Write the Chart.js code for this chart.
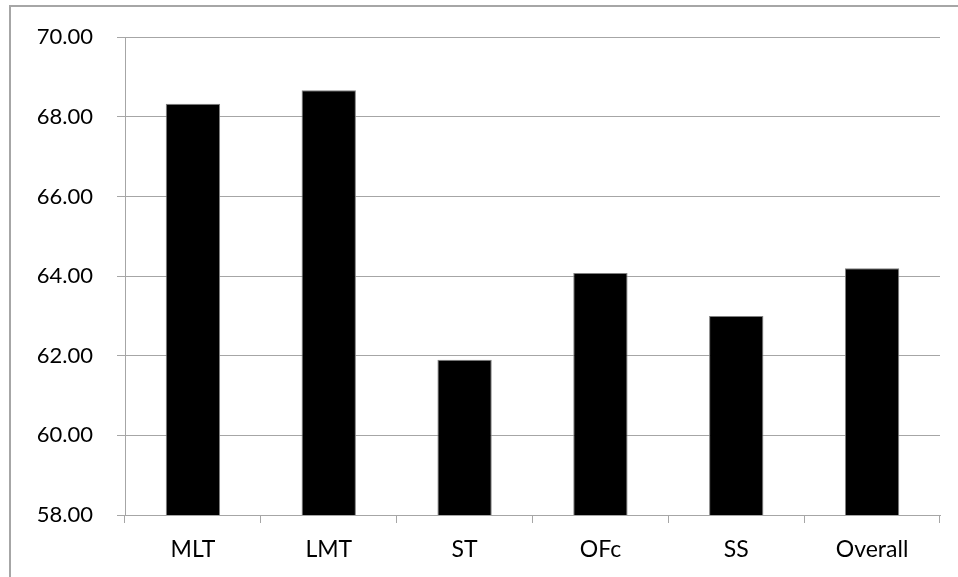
<!DOCTYPE html>
<html>
<head>
<meta charset="utf-8">
<script src="https://cdn.jsdelivr.net/npm/chart.js@4/dist/chart.umd.min.js"></script>
<style>
  html, body { margin: 0; padding: 0; background: #ffffff; }
  #wrap { width: 958px; height: 577px; position: relative; }
</style>
</head>
<body>
<div id="wrap"><canvas id="chart" width="958" height="577"></canvas></div>
<script>
// Category labels and the score for each group
const categories = ['MLT', 'LMT', 'ST', 'OFc', 'SS', 'Overall'];
const scores = [68.33, 68.67, 61.90, 64.08, 63.00, 64.20];

// Value axis range
const yMin = 58;
const yMax = 70;
const yStep = 2;

const lineGray = '#a6a6a6';

// Light frame drawn around the chart
const framePlugin = {
  id: 'frame',
  beforeDraw(chart) {
    const ctx = chart.ctx;
    ctx.save();
    ctx.fillStyle = '#ffffff';
    ctx.fillRect(0, 0, chart.width, chart.height);
    ctx.strokeStyle = '#a6a6a6';
    ctx.lineWidth = 2;
    ctx.strokeRect(10, 6, chart.width + 20, chart.height + 20);
    ctx.restore();
  }
};

new Chart(document.getElementById('chart'), {
  type: 'bar',
  data: {
    labels: categories,
    datasets: [{
      data: scores,
      backgroundColor: '#000000',
      borderColor: '#808080',
      borderWidth: 1,
      categoryPercentage: 1,
      barPercentage: 0.4
    }]
  },
  options: {
    responsive: false,
    animation: false,
    devicePixelRatio: 1,
    layout: { padding: { left: 0, right: 18, top: 37, bottom: 0 } },
    plugins: {
      legend: { display: false },
      tooltip: { enabled: false }
    },
    scales: {
      y: {
        min: yMin,
        max: yMax,
        afterFit(scale) { scale.width = 125; },
        ticks: {
          stepSize: yStep,
          padding: 24,
          color: '#000000',
          font: { family: 'Lato', size: 22 },
          callback: v => Number(v).toFixed(2)
        },
        grid: {
          color: lineGray,
          lineWidth: 1,
          tickLength: 8,
          drawOnChartArea: true
        },
        border: { display: true, color: lineGray, width: 1 }
      },
      x: {
        afterFit(scale) { scale.height = 62; },
        ticks: {
          padding: 13,
          color: '#000000',
          font: { family: 'Lato', size: 23 }
        },
        grid: {
          offset: true,
          color: lineGray,
          lineWidth: 1,
          tickLength: 8,
          drawOnChartArea: false
        },
        border: { display: true, color: lineGray, width: 1 }
      }
    }
  },
  plugins: [framePlugin]
});
</script>
</body>
</html>
